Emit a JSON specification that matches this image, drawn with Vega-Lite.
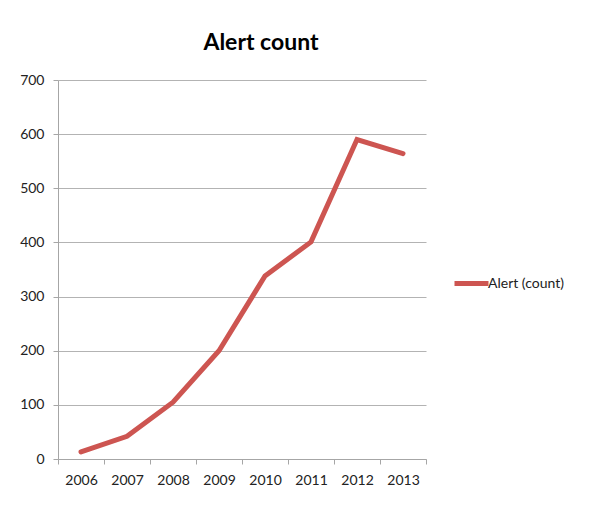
{
  "$schema": "https://vega.github.io/schema/vega-lite/v6.json",
  "autosize": "none",
  "width": 368,
  "height": 379,
  "padding": {"left": 58, "top": 80, "right": 174, "bottom": 48},
  "background": "white",
  "title": {
    "text": "Alert count",
    "font": "Lato",
    "fontSize": 23,
    "fontWeight": "bold",
    "color": "#000000",
    "anchor": "middle",
    "dx": 19,
    "offset": 18
  },
  "data": {
    "values": [
      {"year": "2006", "count": 13, "series": "Alert (count)"},
      {"year": "2007", "count": 42, "series": "Alert (count)"},
      {"year": "2008", "count": 105, "series": "Alert (count)"},
      {"year": "2009", "count": 200, "series": "Alert (count)"},
      {"year": "2010", "count": 338, "series": "Alert (count)"},
      {"year": "2011", "count": 401, "series": "Alert (count)"},
      {"year": "2012", "count": 590, "series": "Alert (count)"},
      {"year": "2013", "count": 564, "series": "Alert (count)"}
    ]
  },
  "mark": {"type": "line", "strokeWidth": 5, "strokeCap": "round", "strokeJoin": "miter"},
  "encoding": {
    "x": {
      "field": "year",
      "type": "ordinal",
      "scale": {"type": "band", "paddingInner": 0, "paddingOuter": 0},
      "axis": {
        "title": null,
        "labelAngle": 0,
        "tickBand": "extent",
        "grid": false,
        "domainColor": "#a6a6a6",
        "tickColor": "#a6a6a6",
        "tickSize": 5,
        "labelPadding": 9,
        "labelFont": "Lato",
        "labelFontSize": 14,
        "labelColor": "#222222"
      }
    },
    "y": {
      "field": "count",
      "type": "quantitative",
      "scale": {"domain": [0, 700], "nice": false},
      "axis": {
        "title": null,
        "values": [0, 100, 200, 300, 400, 500, 600, 700],
        "grid": true,
        "gridColor": "#b3b3b3",
        "domainColor": "#a6a6a6",
        "tickColor": "#a6a6a6",
        "tickSize": 5,
        "labelPadding": 9,
        "labelFont": "Lato",
        "labelFontSize": 14,
        "labelColor": "#222222"
      }
    },
    "color": {
      "field": "series",
      "type": "nominal",
      "scale": {"range": ["#CD5551"]},
      "legend": {
        "title": null,
        "orient": "none",
        "legendX": 394,
        "legendY": 184,
        "symbolType": "stroke",
        "symbolSize": 1156,
        "symbolStrokeWidth": 5,
        "labelOffset": -3,
        "labelFont": "Lato",
        "labelFontSize": 14,
        "labelColor": "#222222"
      }
    }
  },
  "config": {
    "view": {"stroke": null},
    "axis": {"domainWidth": 1, "gridWidth": 1}
  }
}
